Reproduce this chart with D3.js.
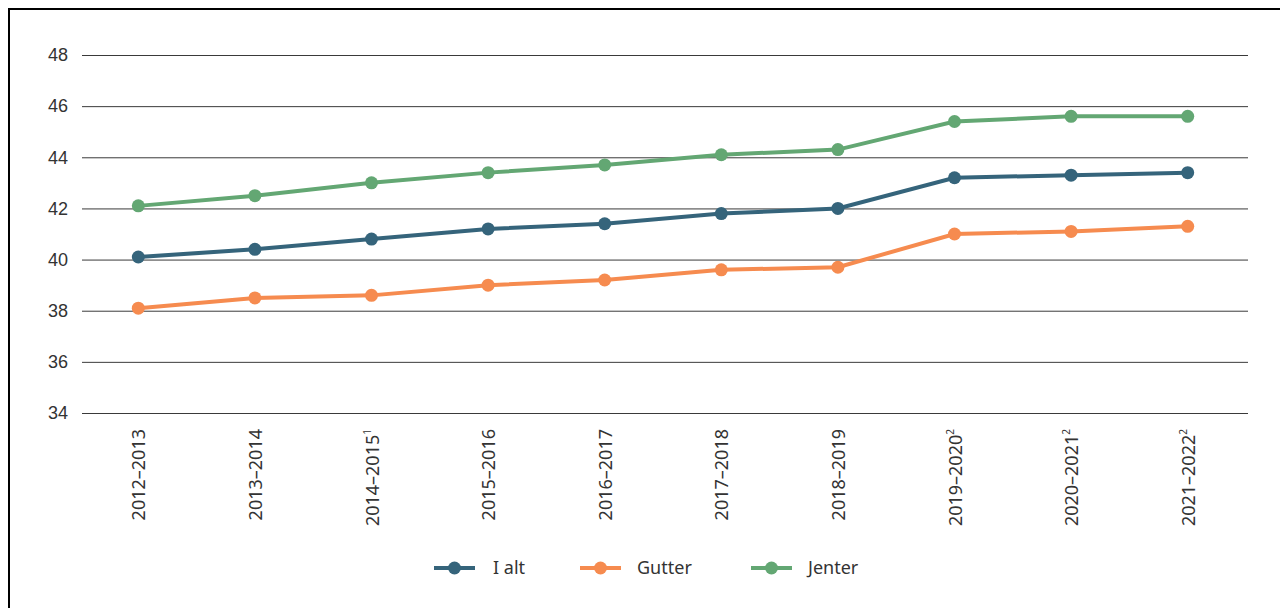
<!DOCTYPE html>
<html>
<head>
<meta charset="utf-8">
<script src="https://cdn.jsdelivr.net/npm/d3@7"></script>
<style>
  html, body { margin: 0; padding: 0; background: #fff; }
  svg { display: block; font-family: "Noto Sans", "Open Sans", sans-serif; }
</style>
</head>
<body>
<svg id="chart" width="1280" height="608"></svg>
<script>
// school years, with footnote markers
const years = ["2012–2013", "2013–2014", "2014–2015", "2015–2016", "2016–2017",
               "2017–2018", "2018–2019", "2019–2020", "2020–2021", "2021–2022"];
const footnotes = ["", "", "1", "", "", "", "", "2", "2", "2"];

const ialt   = [40.1, 40.4, 40.8, 41.2, 41.4, 41.8, 42.0, 43.2, 43.3, 43.4];
const gutter = [38.1, 38.5, 38.6, 39.0, 39.2, 39.6, 39.7, 41.0, 41.1, 41.3];
const jenter = [42.1, 42.5, 43.0, 43.4, 43.7, 44.1, 44.3, 45.4, 45.6, 45.6];

const yTicks = [34, 36, 38, 40, 42, 44, 46, 48];

const series = [
  { name: "I alt",  values: ialt,   color: "#35647b" },
  { name: "Gutter", values: gutter, color: "#f68b4f" },
  { name: "Jenter", values: jenter, color: "#63a773" }
];

const svg = d3.select("#chart");

// outer frame (left + top edges only show)
svg.append("path")
  .attr("d", "M9,608 V9 H1280")
  .attr("fill", "none")
  .attr("stroke", "#000")
  .attr("stroke-width", 2);

const plot = { left: 82, right: 1248, top: 55, bottom: 413 };

const x = d3.scalePoint()
  .domain(years)
  .range([80, 1246])
  .padding(0.5);

const y = d3.scaleLinear()
  .domain([34, 48])
  .range([plot.bottom, plot.top]);

// gridlines + y labels
const yAxis = svg.append("g")
  .attr("transform", `translate(${plot.left},0)`)
  .call(d3.axisLeft(y).tickValues(yTicks).tickSize(-(plot.right - plot.left)).tickPadding(14).tickFormat(d3.format("d")));
yAxis.select(".domain").remove();
yAxis.selectAll(".tick line").attr("stroke", "#3a3a3a").attr("stroke-width", 1);
yAxis.selectAll(".tick text")
  .attr("fill", "#333")
  .style("font-size", "18px");

// x labels, rotated
const xLab = svg.append("g").selectAll("text")
  .data(years)
  .join("text")
  .attr("transform", d => `translate(${x(d) + 7},429) rotate(-90)`)
  .attr("text-anchor", "end")
  .attr("fill", "#333")
  .style("font-size", "18px");
xLab.append("tspan").text(d => d);
xLab.append("tspan")
  .attr("dy", -8)
  .style("font-size", "10px")
  .text((d, i) => footnotes[i]);

// lines and markers
const line = d3.line()
  .x((d, i) => x(years[i]))
  .y(d => y(d));

series.forEach(s => {
  svg.append("path")
    .datum(s.values)
    .attr("d", line)
    .attr("fill", "none")
    .attr("stroke", s.color)
    .attr("stroke-width", 4);
  svg.append("g").selectAll("circle")
    .data(s.values)
    .join("circle")
    .attr("cx", (d, i) => x(years[i]))
    .attr("cy", d => y(d))
    .attr("r", 6.5)
    .attr("fill", s.color);
});

// legend
const legendX = [434, 580, 751];
const legend = svg.append("g").selectAll("g")
  .data(series)
  .join("g")
  .attr("transform", (d, i) => `translate(${legendX[i]},568)`);
legend.append("line")
  .attr("x1", 0).attr("x2", 41)
  .attr("stroke", d => d.color)
  .attr("stroke-width", 4);
legend.append("circle")
  .attr("cx", 20.5)
  .attr("r", 6.5)
  .attr("fill", d => d.color);
legend.append("text")
  .attr("x", (d, i) => i === 0 ? 59 : 57)
  .attr("dy", "0.35em")
  .attr("fill", "#333")
  .style("font-size", "18px")
  .text(d => d.name);
</script>
</body>
</html>
